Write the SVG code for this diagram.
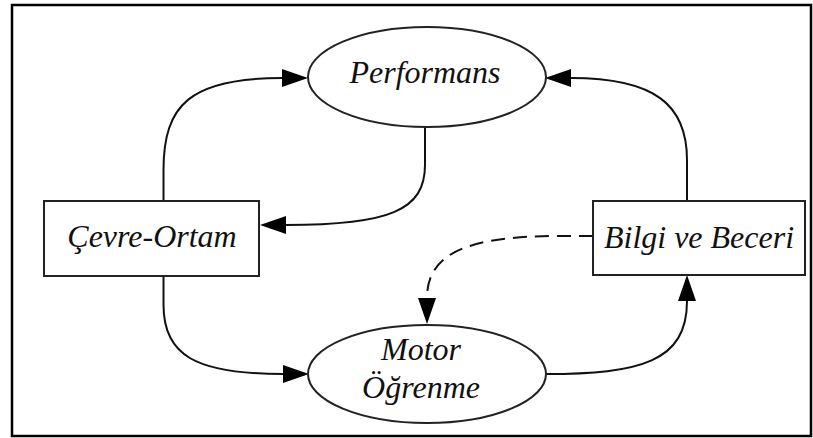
<svg xmlns="http://www.w3.org/2000/svg" width="813" height="438" viewBox="0 0 813 438">
  <style>
    .frame { fill: none; stroke: #000; stroke-width: 2.5; }
    .node { fill: #fff; stroke: #222; stroke-width: 2; }
    .label { font-family: "Liberation Serif", "Times New Roman", serif; font-style: italic; font-size: 32px; fill: #111; text-anchor: middle; }
    .edge { fill: none; stroke: #111; stroke-width: 2; }
    .dashed { stroke-dasharray: 14 8; }
  </style>
  <defs>
    <marker id="arrow" markerUnits="userSpaceOnUse" markerWidth="28" markerHeight="20" refX="0" refY="9" orient="auto" overflow="visible">
      <polygon points="0,0 26,9 0,18" fill="#000"/>
    </marker>
  </defs>

  <rect class="frame" x="12" y="5" width="799" height="431"/>

  <g id="connectors">
    <!-- Çevre-Ortam -> Performans -->
    <path class="edge" marker-end="url(#arrow)" d="M163.5,200 V170 C163.5,105 190,78 282,78"/>
    <!-- Performans -> Çevre-Ortam -->
    <path class="edge" marker-end="url(#arrow)" d="M425,127 V165 C425,210 390,225 286,225"/>
    <!-- Bilgi ve Beceri -> Performans -->
    <path class="edge" marker-end="url(#arrow)" d="M687,200 V160 C687,105 655,78 571,78"/>
    <!-- Çevre-Ortam -> Motor Öğrenme -->
    <path class="edge" marker-end="url(#arrow)" d="M163.5,276 V305 C163.5,355 195,374 283,374"/>
    <!-- Motor Öğrenme -> Bilgi ve Beceri -->
    <path class="edge" marker-end="url(#arrow)" d="M545,374 C640,374 687,362 687,301"/>
    <!-- Bilgi ve Beceri -> Motor Öğrenme (dashed) -->
    <path class="edge dashed" marker-end="url(#arrow)" d="M593,236 H560 C470,236 427,252 427,298"/>
  </g>

  <g id="performans">
    <ellipse class="node" cx="427" cy="77" rx="119" ry="50"/>
    <text class="label" x="425" y="83">Performans</text>
  </g>

  <g id="cevre-ortam">
    <rect class="node" x="44" y="201" width="215" height="75"/>
    <text class="label" x="152" y="247">Çevre-Ortam</text>
  </g>

  <g id="bilgi-ve-beceri">
    <rect class="node" x="593" y="201" width="212" height="74"/>
    <text class="label" x="699" y="248">Bilgi ve Beceri</text>
  </g>

  <g id="motor-ogrenme">
    <ellipse class="node" cx="427" cy="374" rx="119" ry="49"/>
    <text class="label" x="421" y="360">Motor</text>
    <text class="label" x="421" y="398">Öğrenme</text>
  </g>
</svg>
